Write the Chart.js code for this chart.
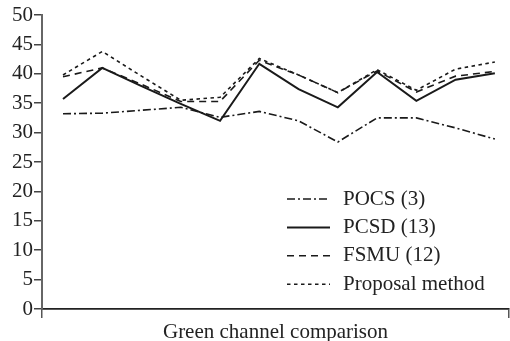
<!DOCTYPE html>
<html>
<head>
<meta charset="utf-8">
<script src="https://cdn.jsdelivr.net/npm/chart.js@4"></script>
<style>
  html, body { margin: 0; padding: 0; background: #fff; }
  #wrap { width: 510px; height: 341px; }
</style>
</head>
<body>
<div id="wrap"><canvas id="myChart"></canvas></div>
<script>
// test image positions 1..12 along the x axis
var positions = [1, 2, 3, 4, 5, 6, 7, 8, 9, 10, 11, 12];

var pocs     = [33.2, 33.3, 33.8, 34.3, 32.6, 33.6, 32.0, 28.4, 32.5, 32.5, 30.8, 28.9];
var pcsd     = [35.7, 41.0, 37.9, 34.9, 32.0, 41.7, 37.4, 34.3, 40.3, 35.4, 39.0, 40.1];
var fsmu     = [39.5, 41.0, 38.2, 35.3, 35.3, 42.3, 39.8, 36.8, 40.5, 36.9, 39.6, 40.4];
var proposal = [39.8, 43.8, 39.6, 35.5, 36.0, 42.6, 39.8, 36.8, 40.7, 37.2, 40.8, 42.0];

var seriesNames = ['POCS (3)', 'PCSD (13)', 'FSMU (12)', 'Proposal method'];
var yTicks = [0, 5, 10, 15, 20, 25, 30, 35, 40, 45, 50];
var xTitle = 'Green channel comparison';

var serif = '"Liberation Serif", "Times New Roman", serif';

function pts(vals) {
  return vals.map(function (v, i) { return {x: positions[i], y: v}; });
}

// legend drawn inside the plot, lower right
var insideLegend = {
  id: 'insideLegend',
  afterDatasetsDraw: function (chart) {
    var c = chart.ctx, a = chart.chartArea;
    c.save();
    c.font = '21px ' + serif;
    c.textBaseline = 'middle';
    c.fillStyle = '#222';
    chart.data.datasets.forEach(function (ds, i) {
      var y = a.top + 184 + i * 28.4;
      var x0 = a.left + 245;
      c.beginPath();
      c.setLineDash(ds.borderDash || []);
      c.lineWidth = ds.borderWidth;
      c.strokeStyle = ds.borderColor;
      c.moveTo(x0, y);
      c.lineTo(x0 + 43, y);
      c.stroke();
      c.setLineDash([]);
      c.fillText(ds.label, x0 + 56, y);
    });
    c.restore();
  }
};

var ctx = document.getElementById('myChart').getContext('2d');
var myChart = new Chart(ctx, {
  type: 'line',
  data: {
    datasets: [{
        data: pts(pocs),
        label: seriesNames[0],
        borderColor: '#1a1a1a',
        borderWidth: 1.6,
        borderDash: [8, 3, 2, 3]
      }, {
        data: pts(pcsd),
        label: seriesNames[1],
        borderColor: '#1a1a1a',
        borderWidth: 2
      }, {
        data: pts(fsmu),
        label: seriesNames[2],
        borderColor: '#1a1a1a',
        borderWidth: 1.6,
        borderDash: [7, 5]
      }, {
        data: pts(proposal),
        label: seriesNames[3],
        borderColor: '#1a1a1a',
        borderWidth: 1.6,
        borderDash: [3.5, 3.5]
      }
    ]
  },
  options: {
    responsive: true,
    maintainAspectRatio: false,
    animation: false,
    elements: { point: { radius: 0 }, line: { tension: 0, fill: false } },
    layout: { padding: { top: 15, right: 1, left: 0, bottom: 0 } },
    plugins: {
      legend: { display: false },
      tooltip: { enabled: false }
    },
    scales: {
      x: {
        type: 'linear',
        min: 0.465,
        max: 12.36,
        afterBuildTicks: function (s) { s.ticks = [{value: s.min}, {value: s.max}]; },
        afterFit: function (s) { s.height = 32; },
        grid: { drawOnChartArea: false, tickLength: 9, color: '#555', lineWidth: 1.5 },
        border: { color: '#222', width: 1.8 },
        ticks: { display: false },
        title: {
          display: true,
          text: xTitle,
          color: '#222',
          font: { family: serif, size: 21, lineHeight: 0.8 },
          padding: { top: 0, bottom: 0 }
        }
      },
      y: {
        min: 0,
        max: 50,
        afterBuildTicks: function (s) { s.ticks = yTicks.map(function (v) { return {value: v}; }); },
        afterFit: function (s) { s.width = 42; },
        grid: { drawOnChartArea: false, tickLength: 8, color: '#444', lineWidth: 1.5 },
        border: { color: '#666', width: 2 },
        ticks: {
          color: '#222',
          padding: 1,
          font: { family: serif, size: 21 }
        }
      }
    }
  },
  plugins: [insideLegend]
});
</script>
</body>
</html>
